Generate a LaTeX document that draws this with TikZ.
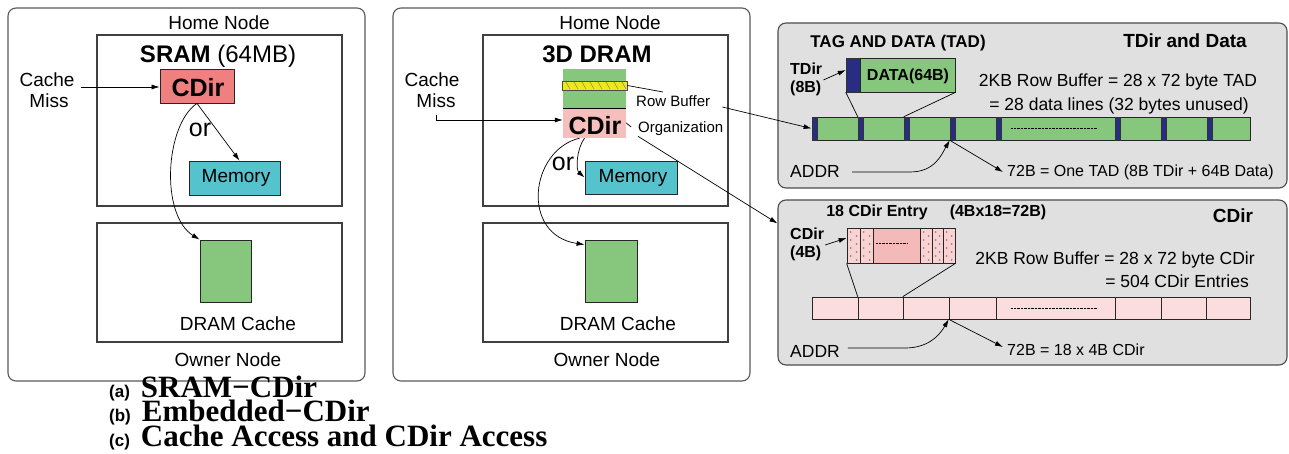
\documentclass[tikz,border=0pt]{standalone}
\usepackage{fontspec}
\setmainfont{Liberation Serif}
\setsansfont{Liberation Sans}
\usetikzlibrary{fit,positioning,arrows.meta}

\newcommand{\fsz}[1]{\fontsize{#1}{#1}\selectfont}

\definecolor{cdirred}{RGB}{240,128,128}
\definecolor{memcyan}{RGB}{84,195,205}
\definecolor{dramgreen}{RGB}{134,199,125}
\definecolor{cdirpink}{RGB}{247,190,190}
\definecolor{rowpink}{RGB}{252,221,221}
\definecolor{entrypink}{RGB}{244,186,186}
\definecolor{tdirnavy}{RGB}{40,44,130}
\definecolor{panelgray}{RGB}{224,224,224}
\definecolor{hatchyellow}{RGB}{240,232,20}

\tikzset{
  frame/.style={draw=black!65, line width=1.1pt, rounded corners=8pt, inner sep=0pt},
  panel/.style={draw=black!70, fill=panelgray, line width=1.1pt, rounded corners=8pt, inner sep=0pt},
  region/.style={draw=black!75, line width=1.1pt, inner sep=0pt},
  blk/.style={draw=black!85, line width=0.8pt, inner sep=0pt},
  strip/.style={draw=black!80, fill=tdirnavy, line width=0.5pt, inner sep=0pt},
  txt/.style={font=\sffamily\fsz{19}, inner sep=0pt},
  big/.style={font=\sffamily\bfseries\fsz{25}, inner sep=0pt},
  small/.style={font=\sffamily\fsz{15}, inner sep=0pt},
  note/.style={font=\sffamily\fsz{17.5}, inner sep=0pt},
  remark/.style={font=\sffamily\fsz{16}, inner sep=0pt},
  tag/.style={font=\sffamily\bfseries\fsz{16}, inner sep=0pt},
  arr/.style={-{Latex[length=8pt,width=5pt]}, line width=0.7pt},
  link/.style={line width=0.7pt},
}

\begin{document}
\begin{tikzpicture}[x=1pt,y=-1pt]
	\useasboundingbox (0,0) rectangle (1289,454);

	% (a) SRAM-CDir
	\node[frame, fit={(8,8) (365,381)}] (node1) {};
	\node[txt, anchor=base] (home1lbl) at (219,30) {Home Node};
	\node[region, fit={(97,35) (342,206)}] (home1) {};
	\node[anchor=base, inner sep=0pt, font=\sffamily\fsz{24}] (sram) at (218,63) {\textbf{SRAM} (64MB)};
	\node[blk, fill=cdirred, fit={(160,69) (234,103)}] (cdir1) {};
	\node[big, anchor=base] (cdir1lbl) at (198,97) {CDir};
	\node[txt, anchor=base] (cache1) at (47,87) {Cache};
	\node[txt, anchor=base] (miss1) at (49,108) {Miss};
	\node[big, font=\sffamily\fsz{25}] (or1) at (200,130) {or};
	\node[blk, fill=memcyan, fit={(189,161) (280,195)}] (mem1) {};
	\node[txt, anchor=base] (mem1lbl) at (236,183) {Memory};
	\node[region, fit={(97,223) (342,342)}] (owner1) {};
	\node[blk, fill=dramgreen, fit={(200,240) (251,302)}] (dc1) {};
	\node[txt, anchor=base] (dc1lbl) at (238,330) {DRAM Cache};
	\node[txt, anchor=base] (owner1lbl) at (228,366) {Owner Node};

	\draw[arr] ([xshift=6pt]cache1.base east) -- (cache1.base -| cdir1.west);
	\draw[arr] (cdir1.south) -- ([xshift=5pt]mem1.north);
	\draw[arr] (cdir1.south) .. controls (165,125) and (160,215) .. (dc1.north west);

	% (b) Embedded-CDir
	\node[frame, fit={(393,8) (750,381)}] (node2) {};
	\node[txt, anchor=base] (home2lbl) at (610,30) {Home Node};
	\node[region, fit={(483,35) (728,206)}] (home2) {};
	\node[anchor=base, inner sep=0pt, font=\sffamily\bfseries\fsz{24}] (dram3d) at (597,63) {3D DRAM};
	\node[fill=dramgreen, inner sep=0pt, fit={(563,69) (626,108)}] (bank) {};
	\node[fill=cdirpink, inner sep=0pt, fit={(563,108) (626,138)}] (cdir2) {};
	\draw[link] (bank.south west) -- (bank.south east);
	\node[fill=hatchyellow, draw=black!70, line width=0.8pt, inner sep=0pt, fit={(562,81) (627,90)}] (rowbar) {};
	\foreach \x in {566,574,...,622}
		\draw[black!45, line width=0.6pt] (\x,82) -- ({\x+4},89);
	\node[big, anchor=base] (cdir2lbl) at (595,135) {CDir};
	\node[txt, anchor=base] (cache2) at (432,87) {Cache};
	\node[txt, anchor=base] (miss2) at (436,108) {Miss};
	\node[small, anchor=base west] (rowbuf) at (636,107) {Row Buffer};
	\node[small, anchor=base west] (org) at (638,133) {Organization};
	\node[big, font=\sffamily\fsz{25}] (or2) at (563,164) {or};
	\node[blk, fill=memcyan, fit={(585,161) (677,194)}] (mem2) {};
	\node[txt, anchor=base] (mem2lbl) at (633,183) {Memory};
	\node[region, fit={(483,223) (728,342)}] (owner2) {};
	\node[blk, fill=dramgreen, fit={(585,240) (637,302)}] (dc2) {};
	\node[txt, anchor=base] (dc2lbl) at (618,330) {DRAM Cache};
	\node[txt, anchor=base] (owner2lbl) at (607,366) {Owner Node};

	\draw[arr] ([yshift=-7pt]miss2.base) |- ([yshift=3pt]cdir2.west);
	\draw[link] (rowbar.east) -- ([xshift=27pt,yshift=15pt]rowbuf.base west);
	\draw[link] (cdir2.east) -- ++(5,4);
	\draw[arr] ([xshift=-10pt]cdir2.south) .. controls (576,150) and (576,170) .. (mem2.west);
	\draw[arr] ([xshift=-15pt]cdir2.south) .. controls (530,150) and (520,235) .. ([yshift=-5pt]dc2.north west);

	% (c) TDir and Data
	\node[panel, fit={(778,23) (1287,188)}] (tadpanel) {};
	\node[tag, font=\sffamily\bfseries\fsz{17}, anchor=base] (tadtitle) at (898,48) {TAG AND DATA (TAD)};
	\node[anchor=base, inner sep=0pt, font=\sffamily\bfseries\fsz{19}] (tadhead) at (1185,48) {TDir and Data};
	\node[tag, anchor=base west] (tdir) at (790,75) {TDir};
	\node[tag, anchor=base west] (tdirsize) at (790,93) {(8B)};
	\node[strip, fit={(846,58) (860,92)}] (tagnavy) {};
	\node[blk, fill=dramgreen, fit={(860,58) (955,92)}] (tagdata) {};
	\node[tag, anchor=base] (tagdatalbl) at (908,81) {DATA(64B)};
	\node[blk, fill=dramgreen, fit={(812,117) (1250,140)}] (tadrow) {};
	\foreach \x [count=\i] in {812,858,904,950,996,1115,1161,1207}
		\node[strip, fit={(\x,117) ({\x+5},140)}] (s\i) {};
	\draw[densely dotted, line width=0.4pt] (1011,128) -- (1097,128);
	\node[note, anchor=base] (tadrb) at (1118,87) {2KB Row Buffer = 28 x 72 byte TAD};
	\node[note, anchor=base] (tadlines) at (1119,111) {= 28 data lines (32 bytes unused)};
	\node[note, anchor=base west] (addr1) at (790,178) {ADDR};
	\node[remark, anchor=base west] (tadnote) at (1007,177) {72B = One TAD (8B TDir + 64B Data)};

	\draw[arr] ([xshift=1pt,yshift=-5pt]tdir.base east) -- ([yshift=5pt]tagnavy.west);
	\draw[link] (tagnavy.south west) -- (s2.north west);
	\draw[link] (tagdata.south east) -- (s3.north west);
	\draw[arr] ([xshift=12pt]rowbuf.base east) -- (tadrow.west);
	\draw[arr] ([xshift=12pt,yshift=6pt]addr1.base east) -- ++(58,0) .. controls +(25,0) and +(-8,14) .. (s4.south west);
	\draw[arr] (s4.south west) -- ([xshift=-4pt,yshift=5pt]tadnote.base west);

	% CDir
	\node[panel, fit={(778,200) (1287,365)}] (cdirpanel) {};
	\node[tag, anchor=base] (entrytitle) at (877,217) {18 CDir Entry};
	\node[tag, anchor=base] (entrysize) at (998,217) {(4Bx18=72B)};
	\node[anchor=base, inner sep=0pt, font=\sffamily\bfseries\fsz{19}] (cdirhead) at (1233,223) {CDir};
	\node[tag, anchor=base west] (cdirA) at (790,240) {CDir};
	\node[tag, anchor=base west] (cdirsize) at (790,257) {(4B)};
	\node[blk, fill=entrypink, fit={(847,228) (955,263)}] (entry) {};
	\foreach \a/\b in {847/860,860/873,920/932,932/943,943/955} {
		\draw[blk, fill=rowpink!70!entrypink] (\a,228) rectangle (\b,263);
		\foreach \y in {232,240,248,256} {
			\fill[black!45] ({\a+3.5},\y) circle (1pt);
			\fill[black!45] ({\b-3.5},{\y+4}) circle (1pt);
		}
	}
	\draw[densely dotted, line width=0.4pt] (876,243) -- (908,243);
	\foreach \a/\b [count=\i] in {812/858,858/903,903/949,949/996,996/1115,1115/1161,1161/1206,1206/1250}
		\node[blk, fill=rowpink, line width=0.6pt, fit={(\a,297) (\b,319)}] (c\i) {};
	\draw[densely dotted, line width=0.4pt] (1011,308) -- (1097,308);
	\node[note, anchor=base] (cdirrb) at (1115,264) {2KB Row Buffer = 28 x 72 byte CDir};
	\node[note, anchor=base east] (cdirent) at (1249,287) {= 504 CDir Entries};
	\node[note, anchor=base west] (addr2) at (790,357) {ADDR};
	\node[remark, anchor=base west] (cdirnote) at (1007,355) {72B = 18 x 4B CDir};

	\draw[arr] ([xshift=1pt,yshift=-5pt]cdirA.base east) -- ([yshift=7.5pt]entry.west);
	\draw[link] (entry.south west) -- (c2.north west);
	\draw[link] (entry.south east) -- (c3.north west);
	\draw[arr] (org.south west) -- ([yshift=-24pt]cdirpanel.north west);
	\draw[arr] ([xshift=8pt,yshift=9pt]addr2.base east) -- ++(57,0) .. controls +(25,0) and +(-8,14) .. (c4.south west);
	\draw[arr] (c4.south west) -- ([xshift=-4pt,yshift=8pt]cdirnote.base west);

	% captions
	\node[anchor=base west, inner sep=0pt] (capa) at (109,397) {\sffamily\bfseries\fsz{17}(a)\hspace{11pt}\rmfamily\bfseries\fsz{31}SRAM−CDir};
	\node[anchor=base west, inner sep=0pt] (capb) at (109,421) {\sffamily\bfseries\fsz{17}(b)\hspace{11pt}\rmfamily\bfseries\fsz{31}Embedded−CDir};
	\node[anchor=base west, inner sep=0pt] (capc) at (109,446) {\sffamily\bfseries\fsz{17}(c)\hspace{11pt}\rmfamily\bfseries\fsz{31}Cache Access and CDir Access};
\end{tikzpicture}
\end{document}
